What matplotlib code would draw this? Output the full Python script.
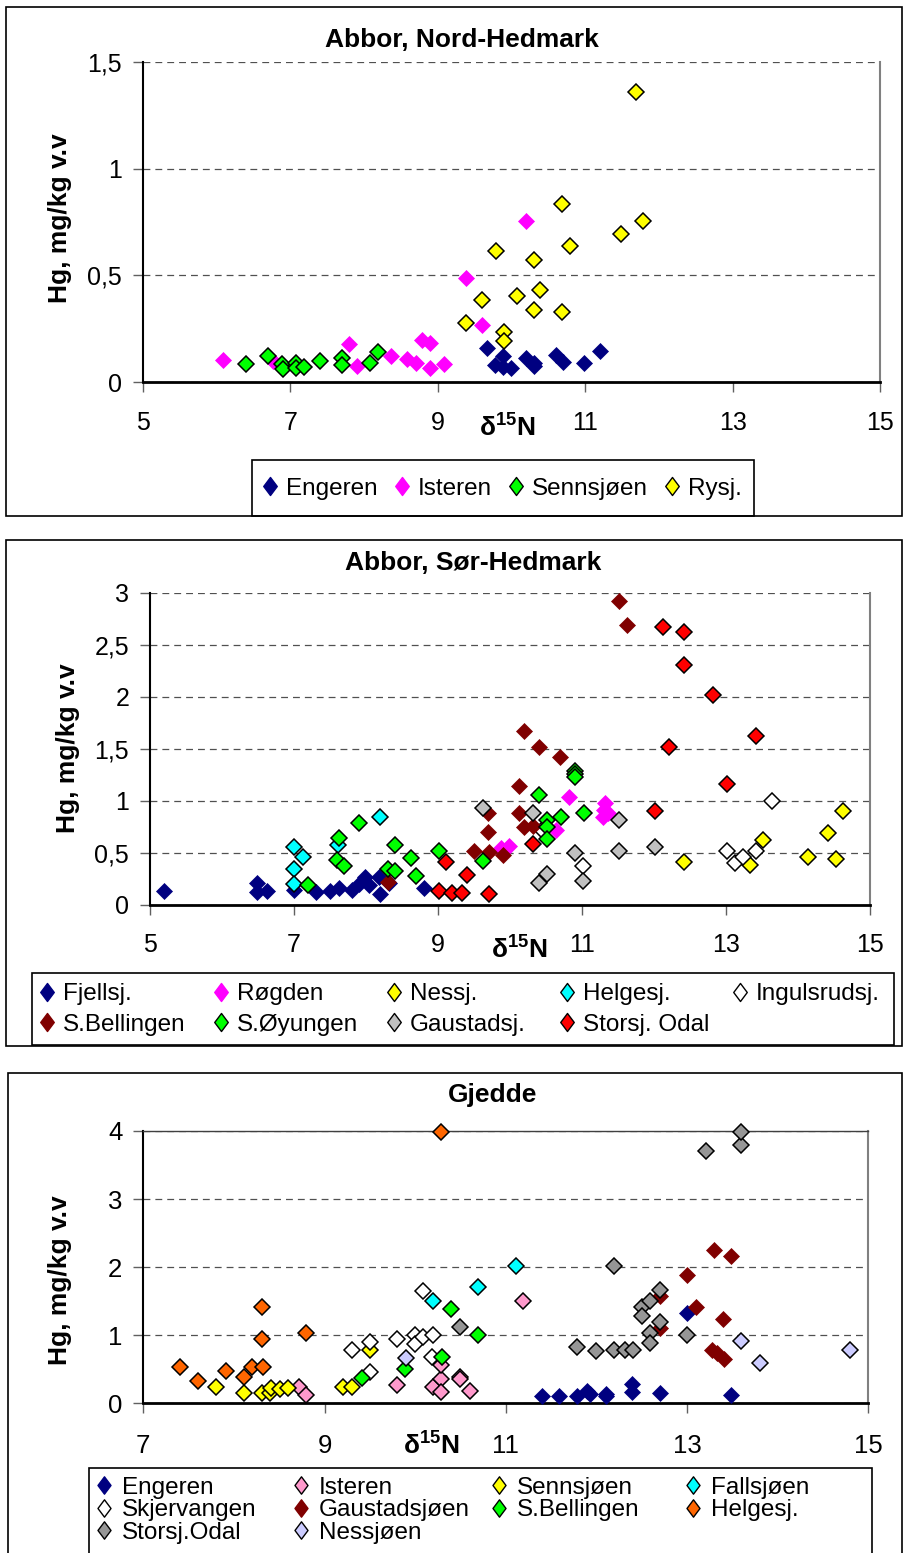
import matplotlib
matplotlib.use('Agg')
import matplotlib.pyplot as plt
from matplotlib.lines import Line2D
from matplotlib.patches import Rectangle
from matplotlib.path import Path

# ---------------- data: Abbor, Nord-Hedmark ----------------
nh_engeren_x = [9.67, 9.78, 9.89, 9.89, 10.0, 10.19, 10.30, 10.31, 10.60, 10.70, 10.98, 11.20]
nh_engeren_y = [0.158, 0.08, 0.122, 0.072, 0.064, 0.111, 0.088, 0.075, 0.127, 0.095, 0.09, 0.147]
nh_isteren_x = [6.09, 6.77, 7.79, 7.90, 8.37, 8.58, 8.70, 8.78, 8.90, 8.89, 9.08, 9.38, 9.60, 10.19]
nh_isteren_y = [0.103, 0.10, 0.178, 0.075, 0.122, 0.11, 0.09, 0.197, 0.185, 0.065, 0.085, 0.488, 0.268, 0.756]
nh_senn_x = [6.40, 6.69, 6.88, 6.90, 7.07, 7.07, 7.18, 7.40, 7.70, 7.70, 8.08, 8.19]
nh_senn_y = [0.085, 0.122, 0.085, 0.06, 0.09, 0.065, 0.072, 0.10, 0.114, 0.08, 0.09, 0.14]
nh_rysj_x = [9.38, 9.60, 9.79, 9.90, 9.90, 10.08, 10.30, 10.30, 10.38, 10.68, 10.68, 10.79, 11.49, 11.69, 11.79]
nh_rysj_y = [0.278, 0.385, 0.616, 0.236, 0.192, 0.404, 0.571, 0.338, 0.432, 0.834, 0.327, 0.638, 0.693, 1.358, 0.757]

# ---------------- data: Abbor, Sør-Hedmark ----------------
sh_fjell_x = [5.19, 6.49, 6.49, 6.62, 7.0, 7.31, 7.50, 7.62, 7.81, 7.90, 7.99, 8.04, 8.18, 8.20, 8.32, 8.81]
sh_fjell_y = [0.134, 0.208, 0.128, 0.137, 0.144, 0.128, 0.137, 0.16, 0.144, 0.2, 0.27, 0.19, 0.27, 0.11, 0.21, 0.16]
sh_rogden_x = [9.87, 9.99, 10.64, 10.82, 11.29, 11.31, 11.32, 11.36]
sh_rogden_y = [0.55, 0.57, 0.72, 1.04, 0.85, 0.91, 0.977, 0.88]
sh_ness_x = [12.41, 13.33, 13.52, 14.14, 14.42, 14.53, 14.63]
sh_ness_y = [0.41, 0.38, 0.62, 0.46, 0.69, 0.44, 0.905]
sh_helge_x = [7.0, 7.0, 7.0, 7.12, 7.61, 8.2]
sh_helge_y = [0.56, 0.35, 0.2, 0.46, 0.576, 0.85]
sh_ingul_x = [10.45, 11.01, 13.02, 13.12, 13.23, 13.41, 13.64]
sh_ingul_y = [0.72, 0.375, 0.52, 0.40, 0.46, 0.52, 1.0]
sh_bell_x = [8.30, 9.50, 9.69, 9.69, 9.71, 9.90, 10.12, 10.12, 10.20, 10.20, 10.32, 10.40, 10.70, 11.52, 11.63]
sh_bell_y = [0.224, 0.52, 0.88, 0.70, 0.51, 0.48, 1.14, 0.886, 1.67, 0.75, 0.76, 1.52, 1.42, 2.92, 2.69]
sh_oyung_x = [7.2, 7.60, 7.62, 7.70, 7.90, 8.30, 8.40, 8.40, 8.62, 8.70, 9.02, 9.62, 10.40, 10.52, 10.52,
              10.52, 10.71, 10.90, 10.90, 10.90, 11.03]
sh_oyung_y = [0.19, 0.43, 0.64, 0.37, 0.79, 0.35, 0.576, 0.33, 0.45, 0.28, 0.52, 0.42, 1.056, 0.82, 0.75,
              0.63, 0.85, 1.29, 1.26, 1.23, 0.886]
sh_gaust_x = [9.62, 10.32, 10.40, 10.52, 10.90, 11.01, 11.52, 11.52, 12.02]
sh_gaust_y = [0.93, 0.886, 0.214, 0.30, 0.50, 0.23, 0.82, 0.52, 0.56]
sh_stors_x = [9.01, 9.11, 9.20, 9.33, 9.40, 9.71, 10.32, 12.01, 12.13, 12.21, 12.41, 12.41, 12.82, 13.02, 13.41]
sh_stors_y = [0.134, 0.41, 0.118, 0.118, 0.29, 0.105, 0.59, 0.905, 2.67, 1.52, 2.62, 2.31, 2.02, 1.16, 1.62]

# ---------------- data: Gjedde ----------------
gj_engeren_x = [11.40, 11.59, 11.79, 11.90, 11.93, 12.11, 12.11, 12.39, 12.39, 12.70, 13.0, 13.49]
gj_engeren_y = [0.10, 0.10, 0.10, 0.185, 0.14, 0.11, 0.14, 0.29, 0.16, 0.156, 1.33, 0.12]
gj_isteren_x = [8.72, 8.80, 9.80, 10.20, 10.29, 10.29, 10.29, 10.49, 10.49, 10.61, 11.19]
gj_isteren_y = [0.245, 0.117, 0.27, 0.245, 0.36, 0.17, 0.56, 0.39, 0.35, 0.185, 1.50]
gj_senn_x = [7.80, 8.11, 8.31, 8.40, 8.41, 8.51, 8.60, 9.20, 9.30, 9.50]
gj_senn_y = [0.245, 0.156, 0.156, 0.15, 0.22, 0.206, 0.22, 0.245, 0.245, 0.79]
gj_falls_x = [10.20, 10.69, 11.11]
gj_falls_y = [1.50, 1.71, 2.01]
gj_skjer_x = [9.30, 9.50, 9.50, 9.80, 10.0, 10.0, 10.09, 10.09, 10.20, 10.19]
gj_skjer_y = [0.79, 0.905, 0.46, 0.945, 1.0, 0.87, 0.98, 1.65, 1.0, 0.685]
gj_gaust_x = [12.70, 12.70, 13.0, 13.10, 13.27, 13.30, 13.33, 13.40, 13.41, 13.49]
gj_gaust_y = [1.57, 1.10, 1.89, 1.41, 0.78, 2.245, 0.735, 1.24, 0.65, 2.16]
gj_bell_x = [9.41, 9.89, 10.30, 10.40, 10.69]
gj_bell_y = [0.367, 0.5, 0.685, 1.39, 1.0]
gj_helge_x = [7.41, 7.60, 7.91, 8.11, 8.20, 8.31, 8.31, 8.32, 8.79, 10.29]
gj_helge_y = [0.54, 0.33, 0.48, 0.38, 0.54, 1.41, 0.945, 0.54, 1.04, 3.98]
gj_stors_x = [10.49, 11.79, 12.0, 12.19, 12.19, 12.31, 12.40, 12.50, 12.50, 12.59, 12.59, 12.59,
              12.70, 12.70, 13.0, 13.21, 13.60, 13.60]
gj_stors_y = [1.12, 0.82, 0.77, 0.79, 2.01, 0.79, 0.79, 1.42, 1.28, 1.51, 1.04, 0.89,
              1.66, 1.19, 1.0, 3.71, 3.80, 3.98]
gj_ness_x = [9.90, 13.60, 13.80, 14.80]
gj_ness_y = [0.66, 0.92, 0.59, 0.79]

# ticks
x_ticks_abbor = [5, 7, 9, 11, 13, 15]
x_ticks_gjedde = [7, 9, 11, 13, 15]
y_ticks_nh = [0, 0.5, 1, 1.5]
y_labels_nh = ['0', '0,5', '1', '1,5']
y_ticks_sh = [0, 0.5, 1, 1.5, 2, 2.5, 3]
y_labels_sh = ['0', '0,5', '1', '1,5', '2', '2,5', '3']
y_ticks_gj = [0, 1, 2, 3, 4]
y_labels_gj = ['0', '1', '2', '3', '4']

# ---------------- style ----------------
plt.rcParams['font.family'] = ['Liberation Sans', 'DejaVu Sans']
plt.rcParams['mathtext.fontset'] = 'custom'
plt.rcParams['mathtext.rm'] = 'Liberation Sans'
plt.rcParams['mathtext.bf'] = 'Liberation Sans:bold'
plt.rcParams['mathtext.it'] = 'Liberation Sans:italic'

W, H = 904, 1553
fig = plt.figure(figsize=(W / 100, H / 100), dpi=100)

NAVY, MAG, GRN, YEL = '#000080', '#FF00FF', '#00FF00', '#FFFF00'
CYAN, WHITE, DRED, SILV, RED = '#00FFFF', '#FFFFFF', '#800000', '#C0C0C0', '#FF0000'
PINK, ORNG, GRAY, LAV = '#FF99CC', '#FF6600', '#969696', '#CCCCFF'

LEG_DIAMOND = Path([(0, 1), (0.75, 0), (0, -1), (-0.75, 0), (0, 1)],
                   [Path.MOVETO, Path.LINETO, Path.LINETO, Path.LINETO, Path.CLOSEPOLY])


def fig_rect(x0, y0, x1, y1, lw=1.2, ec='black'):
    fig.patches.append(Rectangle((x0 / W, 1 - y1 / H), (x1 - x0) / W, (y1 - y0) / H,
                                 transform=fig.transFigure, fill=False, ec=ec, lw=lw, zorder=0))


def make_ax(l, t, r, b):
    return fig.add_axes([l / W, 1 - b / H, (r - l) / W, (b - t) / H])


def style(ax, xlim, ylim, xt, yt, ytl, fs, xpad, top_spine=False):
    ax.set_xlim(xlim)
    ax.set_ylim(ylim)
    ax.set_xticks(xt)
    ax.set_xticklabels([str(v) for v in xt])
    ax.set_yticks(yt)
    ax.set_yticklabels(ytl)
    ax.yaxis.grid(True, linestyle=(0, (5.5, 4)), color='#505050', lw=0.9)
    ax.set_axisbelow(True)
    ax.spines['left'].set(color='black', lw=1.5)
    ax.spines['bottom'].set(color='black', lw=2.0)
    ax.spines['right'].set(color='#808080', lw=1.5)
    if top_spine:
        ax.spines['top'].set(color='#404040', lw=1.0)
    else:
        ax.spines['top'].set_visible(False)
    ax.tick_params(axis='both', direction='out', length=7, width=1, color='#606060', labelsize=fs)
    ax.tick_params(axis='x', pad=xpad)
    ax.tick_params(axis='y', pad=8)


def series(ax, x, y, color, edge):
    ax.plot(x, y, ls='none', marker='D', ms=8.2, mfc=color,
            mec='black' if edge else color, mew=1.1 if edge else 0.5,
            clip_on=False, zorder=3)


def proxy(color, edge, ms):
    return Line2D([], [], ls='none', marker=LEG_DIAMOND, ms=ms, mfc=color,
                  mec='black' if edge else color, mew=1.0)


def column_legends(cols, xs, ytop, fs, hl, htp, ls, ms):
    for col, xm in zip(cols, xs):
        handles = [proxy(c, e, ms) for (_, c, e) in col]
        labels = [n for (n, _, _) in col]
        fs_px = fs * 100 / 72
        ax_x = xm - hl * fs_px / 2
        fig.legend(handles, labels, loc='upper left',
                   bbox_to_anchor=(ax_x / W, 1 - ytop / H), bbox_transform=fig.transFigure,
                   frameon=False, borderpad=0, borderaxespad=0, fontsize=fs,
                   handlelength=hl, handletextpad=htp, labelspacing=ls, handleheight=0.7)


def labels(ax, title, tpos, xlpos, ylpos, tfs=19, lfs=19):
    ax.set_title(title, fontsize=tfs, fontweight='bold', pad=0, x=tpos[0], y=tpos[1], va='center')
    ax.set_xlabel(r'$\mathbf{\delta^{15}N}$', fontsize=lfs)
    ax.xaxis.set_label_coords(*xlpos)
    ax.xaxis.label.set_va('center')
    ax.set_ylabel('Hg, mg/kg v.v', fontsize=lfs, fontweight='bold')
    ax.yaxis.set_label_coords(*ylpos)
    ax.yaxis.label.set_va('center')


# ================= Chart 1 =================
fig_rect(6, 7, 902, 516)
ax1 = make_ax(143, 62, 880, 382)
style(ax1, (5, 15), (0, 1.5), x_ticks_abbor, y_ticks_nh, y_labels_nh, 18, 14)
series(ax1, nh_engeren_x, nh_engeren_y, NAVY, False)
series(ax1, nh_isteren_x, nh_isteren_y, MAG, False)
series(ax1, nh_senn_x, nh_senn_y, GRN, True)
series(ax1, nh_rysj_x, nh_rysj_y, YEL, True)
labels(ax1, 'Abbor, Nord-Hedmark', (0.433, 1.069), (0.494, -0.144), (-0.113, 0.5125))
fig_rect(252, 460, 754, 516)
column_legends([[('Engeren', NAVY, False)], [('Isteren', MAG, False)],
                [('Sennsjøen', GRN, True)], [('Rysj.', YEL, True)]],
               [270, 402, 516, 672], 477.5, 17.5, 0.7, 0.3, 0.2, 13)

# ================= Chart 2 =================
fig_rect(6, 540, 902, 1046)
ax2 = make_ax(150, 592.7, 870, 905)
style(ax2, (5, 15), (0, 3), x_ticks_abbor, y_ticks_sh, y_labels_sh, 18, 13)
series(ax2, sh_fjell_x, sh_fjell_y, NAVY, False)
series(ax2, sh_rogden_x, sh_rogden_y, MAG, False)
series(ax2, sh_ness_x, sh_ness_y, YEL, True)
series(ax2, sh_helge_x, sh_helge_y, CYAN, True)
series(ax2, sh_ingul_x, sh_ingul_y, WHITE, True)
series(ax2, sh_bell_x, sh_bell_y, DRED, False)
series(ax2, sh_oyung_x, sh_oyung_y, GRN, True)
series(ax2, sh_gaust_x, sh_gaust_y, SILV, True)
series(ax2, sh_stors_x, sh_stors_y, RED, True)
labels(ax2, 'Abbor, Sør-Hedmark', (0.449, 1.095), (0.5125, -0.144), (-0.114, 0.503))
fig_rect(32, 973, 894, 1045)
column_legends([[('Fjellsj.', NAVY, False), ('S.Bellingen', DRED, False)],
                [('Røgden', MAG, False), ('S.Øyungen', GRN, True)],
                [('Nessj.', YEL, True), ('Gaustadsj.', SILV, True)],
                [('Helgesj.', CYAN, True), ('Storsj. Odal', RED, True)],
                [('Ingulsrudsj.', WHITE, True)]],
               [47, 221, 394, 567, 740], 983, 17.5, 0.7, 0.3, 0.35, 13)

# ================= Chart 3 =================
fig_rect(8, 1073, 902, 1560)
ax3 = make_ax(143.3, 1131, 868.3, 1403.3)
style(ax3, (7, 15), (0, 4), x_ticks_gjedde, y_ticks_gj, y_labels_gj, 18.5, 15, top_spine=True)
series(ax3, gj_engeren_x, gj_engeren_y, NAVY, False)
series(ax3, gj_isteren_x, gj_isteren_y, PINK, True)
series(ax3, gj_senn_x, gj_senn_y, YEL, True)
series(ax3, gj_falls_x, gj_falls_y, CYAN, True)
series(ax3, gj_skjer_x, gj_skjer_y, WHITE, True)
series(ax3, gj_gaust_x, gj_gaust_y, DRED, False)
series(ax3, gj_bell_x, gj_bell_y, GRN, True)
series(ax3, gj_helge_x, gj_helge_y, ORNG, True)
series(ax3, gj_stors_x, gj_stors_y, GRAY, True)
series(ax3, gj_ness_x, gj_ness_y, LAV, True)
labels(ax3, 'Gjedde', (0.482, 1.132), (0.398, -0.157), (-0.115, 0.453))
fig_rect(88.7, 1468, 871.7, 1560)
column_legends([[('Engeren', NAVY, False), ('Skjervangen', WHITE, True), ('Storsj.Odal', GRAY, True)],
                [('Isteren', PINK, True), ('Gaustadsjøen', DRED, False), ('Nessjøen', LAV, True)],
                [('Sennsjøen', YEL, True), ('S.Bellingen', GRN, True)],
                [('Fallsjøen', CYAN, True), ('Helgesj.', ORNG, True)]],
               [104, 300.6, 499, 693], 1476.5, 17.5, 0.8, 0.35, 0.02, 12.5)

fig.savefig('out.png', dpi=100)
